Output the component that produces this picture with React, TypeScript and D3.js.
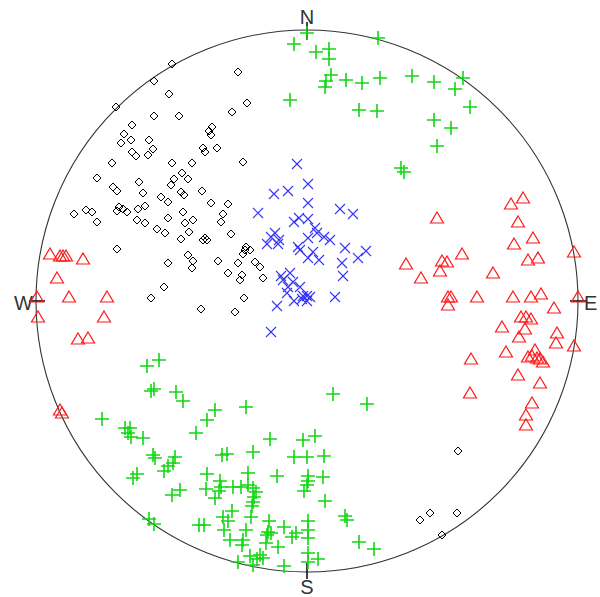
import React from "react";
import * as d3 from "d3";

// stereonet: points as east / north offsets, net radius = 271
const R = 271;

const diamonds: [number, number][] = [
  [-135, 237], [-153, 220], [-138, 207], [-191, 194], [-153, 185], [-128, 185],
  [-175, 176], [-183, 167], [-176, 161], [-186, 158], [-158, 161], [-154, 152],
  [-69, 229], [-60, 198], [-75, 189], [-95, 174], [-98, 170], [-96, 166],
  [-104, 153], [-90, 153], [-175, 149], [-171, 145], [-159, 146], [-195, 138],
  [-135, 138], [-115, 138], [-210, 123], [-125, 128], [-133, 122], [-119, 122],
  [-168, 119], [-136, 116], [-194, 114], [-190, 110], [-164, 108], [-126, 109],
  [-123, 106], [-146, 104], [-139, 99], [-162, 95], [-169, 92], [-188, 94],
  [-190, 90], [-184, 92], [-180, 89], [-233, 87], [-221, 91], [-215, 89],
  [-210, 79], [-170, 81], [-162, 78], [-124, 89], [-139, 83], [-114, 81],
  [-122, 78], [-150, 72], [-142, 68], [-118, 69], [-126, 62], [-190, 52],
  [-139, 38], [-119, 46], [-114, 40], [-115, 33], [-143, 14], [-156, 3],
  [-64, 139], [-105, 110], [-96, 98], [-79, 97], [-84, 87], [-86, 79],
  [-76, 67], [-102, 63], [-100, 61], [-104, 61], [-61, 54], [-57, 51],
  [-62, 51], [-64, 47], [-89, 40], [-69, 38], [-52, 39], [-47, 34],
  [-79, 28], [-65, 26], [-67, 21], [-44, 23], [-63, 3], [-102, 149],
  [-106, -8], [-72, -11],
  [151, -150], [113, -219], [123, -212], [150, -212], [135, -234],
];

const crosses: [number, number][] = [
  [0, 268], [-13, 257], [9, 249], [22, 252], [22, 242], [24, 226], [19, 220],
  [18, 214], [39, 221], [55, 218], [73, 223], [-17, 201], [52, 191], [70, 190],
  [71, 263], [105, 225], [127, 219], [156, 223], [148, 212], [163, 194],
  [127, 181], [144, 173], [130, 155], [94, 133], [97, 129],
  [-160, -65], [-148, -59], [-156, -90], [-153, -88], [-131, -91], [-124, -100],
  [-205, -118], [-182, -127], [-177, -127], [-179, -132], [-176, -136],
  [-164, -137], [-111, -132], [-92, -109], [-100, -119], [-61, -106],
  [26, -93], [60, -103], [-37, -138], [-4, -139], [8, -135],
  [-85, -154], [-80, -153], [-54, -151], [-13, -156], [0, -156], [17, -155],
  [-100, -173], [-87, -180], [-86, -186], [-101, -188], [-88, -190], [-92, -197],
  [-74, -186], [-66, -186], [-59, -172], [-59, -184], [-54, -187], [-51, -191],
  [-53, -196], [-54, -201], [-55, -205], [-30, -175], [1, -175], [1, -180],
  [0, -184], [-3, -190], [16, -176], [18, -200], [38, -215], [40, -219],
  [-75, -210], [-84, -216], [-79, -220], [-103, -224], [-83, -229], [-56, -216],
  [-61, -229], [-38, -220], [-23, -226], [-39, -231], [-40, -234], [-36, -232],
  [-11, -232], [-15, -236], [1, -220], [1, -229], [1, -237], [1, -252],
  [-77, -239], [-64, -239], [-65, -244], [-41, -242], [-29, -246], [-57, -255],
  [-47, -254], [-50, -258], [-44, -257], [-69, -261], [-54, -264], [-23, -265],
  [1, -261], [11, -258], [52, -241], [67, -248],
  [-154, -154], [-152, -157], [-132, -156], [-134, -162], [-139, -165],
  [-143, -170], [-170, -173], [-174, -177], [-135, -194], [-127, -189],
  [-158, -218], [-153, -223], [-108, -224],
];

const xMarks: [number, number][] = [
  [-10, 137], [1, 117], [-33, 107], [-19, 110], [-49, 88], [1, 98], [33, 92],
  [46, 87], [-13, 79], [-8, 83], [1, 82], [8, 73], [10, 68], [1, 63], [17, 64],
  [23, 61], [-36, 64], [-32, 68], [-28, 61], [-40, 57], [-29, 57], [-9, 54],
  [-7, 51], [38, 53], [59, 50], [51, 43], [6, 49], [1, 43], [12, 41], [35, 38],
  [36, 25], [-26, 25], [-24, 21], [-17, 28], [-14, 19], [-7, 14], [-19, 14],
  [-20, 8], [-4, 5], [0, 5], [3, 4], [-5, 2], [28, 4], [-30, -5], [-36, -31],
  [0, 0], [-13, 0],
];

const triangles: [number, number][] = [
  [-257, 47], [-247, 45], [-244, 45], [-241, 45], [-224, 42], [-250, 23],
  [-270, 4], [-238, 4], [-200, 4], [-269, -16], [-203, -16], [-229, -38],
  [-219, -37], [-247, -109], [-245, -112],
  [130, 83], [204, 97], [216, 103], [211, 79], [207, 57], [226, 63], [221, 41],
  [231, 43], [267, 49], [99, 37], [114, 23], [135, 40], [140, 39], [133, 30],
  [155, 47], [186, 28], [141, 4], [144, 4], [170, 4], [206, 4], [224, 4],
  [234, 7], [271, 4], [141, -4], [247, -7], [195, -26], [214, -16], [219, -16],
  [224, -18], [218, -28], [212, -36], [250, -32], [249, -42], [267, -45],
  [199, -51], [164, -58], [221, -56], [225, -55], [228, -49], [230, -57],
  [233, -58], [236, -61], [211, -74], [233, -82], [163, -92], [225, -102],
  [219, -114], [219, -124],
];

const directions = ["N", "E", "S", "W"];

export default function App() {
  const width = 600;
  const height = 597;
  const cx = 307;
  const cy = 301;

  const x = d3.scaleLinear().domain([-R, R]).range([cx - R, cx + R]);
  const y = d3.scaleLinear().domain([-R, R]).range([cy + R, cy - R]);

  const cross = (px: number, py: number) =>
    `M${px - 7},${py}H${px + 7}M${px},${py - 7}V${py + 7}`;
  const xshape = (px: number, py: number) =>
    `M${px - 5},${py - 5}L${px + 5},${py + 5}M${px - 5},${py + 5}L${px + 5},${py - 5}`;
  const tri = (px: number, py: number) =>
    `M${px},${py - 6}L${px + 6.5},${py + 5}L${px - 6.5},${py + 5}Z`;
  const diamond = (px: number, py: number) =>
    `M${px},${py - 4}L${px + 4},${py}L${px},${py + 4}L${px - 4},${py}Z`;

  // direction ticks and labels
  const labelPos: Record<string, { tick: string; lx: number; ly: number; anchor: string }> = {
    N: { tick: `M${x(0)},${y(R) - 8}V${y(R) + 10}`, lx: x(0), ly: y(R) - 6, anchor: "middle" },
    S: { tick: `M${x(0)},${y(-R) - 9}V${y(-R) + 7}`, lx: x(0), ly: y(-R) + 22, anchor: "middle" },
    E: { tick: `M${x(R) - 8},${y(0)}H${x(R) + 8}`, lx: x(R) + 6, ly: y(0) + 9, anchor: "start" },
    W: { tick: `M${x(-R) - 7},${y(0)}H${x(-R) + 9}`, lx: x(-R) - 3, ly: y(0) + 9, anchor: "end" },
  };

  return (
    <svg
      width={width}
      height={height}
      style={{ position: "absolute", left: 0, top: 0, background: "#fff" }}
    >
      <circle cx={x(0)} cy={y(0)} r={x(R) - x(0)} fill="none" stroke="#333" strokeWidth={1.1} />
      {directions.map((d) => (
        <g key={d}>
          <path d={labelPos[d].tick} stroke="#111" strokeWidth={1.6} />
          <text
            x={labelPos[d].lx}
            y={labelPos[d].ly}
            textAnchor={labelPos[d].anchor}
            fontFamily="Liberation Sans, Arial, sans-serif"
            fontSize={20}
            fill="#333"
          >
            {d}
          </text>
        </g>
      ))}
      <g fill="none" stroke="#000" strokeWidth={1}>
        {diamonds.map((d, i) => (
          <path key={i} d={diamond(x(d[0]), y(d[1]))} />
        ))}
      </g>
      <g fill="none" stroke="#ff1a1a" strokeWidth={1.2}>
        {triangles.map((d, i) => (
          <path key={i} d={tri(x(d[0]), y(d[1]))} />
        ))}
      </g>
      <g fill="none" stroke="#3333ff" strokeWidth={1.1}>
        {xMarks.map((d, i) => (
          <path key={i} d={xshape(x(d[0]), y(d[1]))} />
        ))}
      </g>
      <g fill="none" stroke="#12d812" strokeWidth={1.6}>
        {crosses.map((d, i) => (
          <path key={i} d={cross(x(d[0]), y(d[1]))} />
        ))}
      </g>
    </svg>
  );
}
